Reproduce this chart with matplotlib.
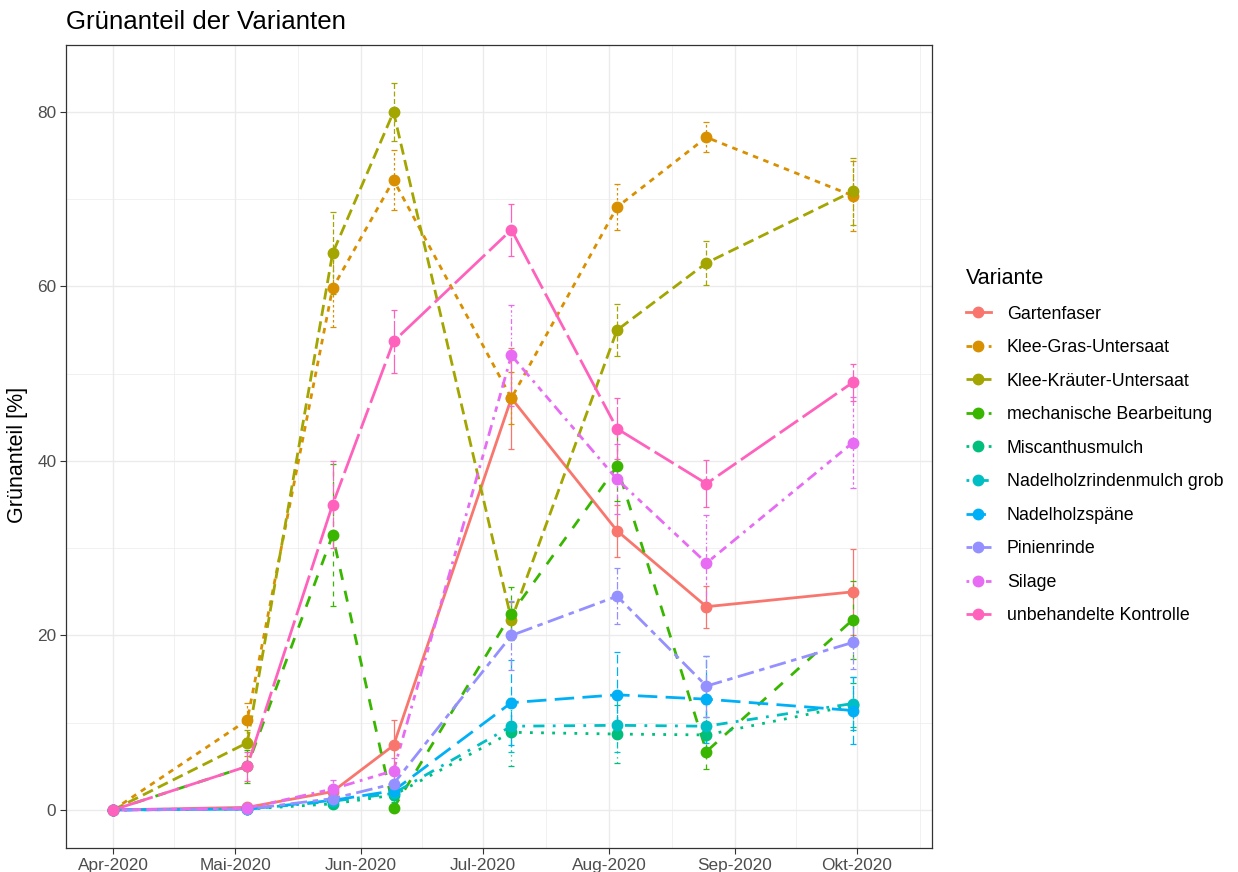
import pandas as pd
import matplotlib
matplotlib.use("Agg")
import matplotlib.pyplot as plt
import matplotlib.dates as mdates
from matplotlib.lines import Line2D

plt.rcParams['font.family'] = ['Liberation Sans', 'DejaVu Sans']

# Aufnahmetermine
dates = pd.to_datetime(["2020-04-01", "2020-05-04", "2020-05-25", "2020-06-09",
                        "2020-07-08", "2020-08-03", "2020-08-25", "2020-09-30"])

varianten = ["Gartenfaser", "Klee-Gras-Untersaat", "Klee-Kräuter-Untersaat",
             "mechanische Bearbeitung", "Miscanthusmulch", "Nadelholzrindenmulch grob",
             "Nadelholzspäne", "Pinienrinde", "Silage", "unbehandelte Kontrolle"]

# Mittelwerte Grünanteil [%]
gartenfaser = [0, 0.3, 2.1, 7.4, 47.2, 32.0, 23.3, 25.0]
klee_gras = [0, 10.3, 59.8, 72.2, 47.2, 69.1, 77.1, 70.4]
klee_kraeuter = [0, 7.7, 63.8, 80.0, 21.8, 55.0, 62.7, 70.9]
mechanisch = [0, 5.0, 31.5, 0.2, 22.5, 39.4, 6.7, 21.8]
miscanthus = [0, 0.1, 0.7, 1.7, 8.9, 8.7, 8.6, 12.0]
rindenmulch = [0, 0.1, 1.0, 1.9, 9.6, 9.7, 9.6, 12.2]
nadelholzspaene = [0, 0.1, 1.1, 2.2, 12.3, 13.2, 12.7, 11.4]
pinienrinde = [0, 0.1, 1.3, 3.0, 20.0, 24.5, 14.2, 19.2]
silage = [0, 0.2, 2.4, 4.5, 52.1, 37.9, 28.3, 42.1]
kontrolle = [0, 5.0, 35.0, 53.7, 66.5, 43.7, 37.4, 49.0]

# Fehlerbalken (+/-)
gartenfaser_sd = [0, 0.3, 0.5, 2.9, 5.8, 3.0, 2.4, 4.9]
klee_gras_sd = [0, 2.0, 4.4, 3.4, 3.0, 2.6, 1.7, 4.0]
klee_kraeuter_sd = [0, 1.5, 4.7, 3.3, 2.0, 3.0, 2.5, 3.8]
mechanisch_sd = [0, 1.9, 8.1, 0.3, 3.0, 4.0, 2.0, 4.5]
miscanthus_sd = [0, 0.1, 0.3, 0.8, 3.9, 3.3, 2.0, 2.5]
rindenmulch_sd = [0, 0.1, 0.3, 0.8, 3.0, 3.0, 2.5, 3.0]
nadelholzspaene_sd = [0, 0.1, 0.3, 1.0, 4.9, 4.9, 5.0, 3.8]
pinienrinde_sd = [0, 0.1, 0.4, 1.2, 4.0, 3.2, 3.5, 3.0]
silage_sd = [0, 0.1, 1.0, 1.5, 5.8, 4.0, 5.5, 5.2]
kontrolle_sd = [0, 1.7, 5.0, 3.6, 3.0, 3.5, 2.7, 2.1]

werte = [gartenfaser, klee_gras, klee_kraeuter, mechanisch, miscanthus,
         rindenmulch, nadelholzspaene, pinienrinde, silage, kontrolle]
fehler = [gartenfaser_sd, klee_gras_sd, klee_kraeuter_sd, mechanisch_sd, miscanthus_sd,
          rindenmulch_sd, nadelholzspaene_sd, pinienrinde_sd, silage_sd, kontrolle_sd]

month_ticks = pd.to_datetime(["2020-04-01", "2020-05-01", "2020-06-01", "2020-07-01",
                              "2020-08-01", "2020-09-01", "2020-10-01", "2020-11-01"])
month_labels = ["Apr-2020", "Mai-2020", "Jun-2020", "Jul-2020",
                "Aug-2020", "Sep-2020", "Okt-2020"]

# ggplot-Farben und Linientypen
farben = ["#F8766D", "#D89000", "#A3A500", "#39B600", "#00BF7D",
          "#00BFC4", "#00B0F6", "#9590FF", "#E76BF3", "#FF62BC"]
linien = ["-", (0, (2, 2)), (0, (4, 2)), (0, (4, 4)), (0, (1, 3)),
          (0, (1, 3, 4, 3)), (0, (7, 3)), (0, (2, 2, 6, 2)),
          (0, (1, 2, 2, 2, 3, 2, 4, 2)), (0, (15, 2, 8, 2))]

W, H = 1238, 872
fig = plt.figure(figsize=(W / 100, H / 100), dpi=100)
ax = fig.add_axes([66 / W, (H - 848) / H, (932 - 66) / W, (848 - 45) / H])

x = mdates.date2num(dates)
lw = 2.0
for i, name in enumerate(varianten):
    ax.plot(x, werte[i], color=farben[i], lw=lw, ls=linien[i], zorder=3)
for i, name in enumerate(varianten):
    eb = ax.errorbar(x, werte[i], yerr=fehler[i], fmt='none', ecolor=farben[i],
                     elinewidth=0.9, capsize=2.5, capthick=0.9, zorder=4)
    eb[2][0].set_linestyle(linien[i])
for i, name in enumerate(varianten):
    ax.plot(x, werte[i], 'o', color=farben[i], ms=7.5, zorder=5)

# Achsen
t = mdates.date2num(month_ticks)
ax.set_xticks(t[:-1])
ax.set_xticklabels(month_labels)
ax.set_xticks((t[:-1] + t[1:]) / 2, minor=True)
ax.set_xlim(t[0] - 11.6, t[6] + 18.5)
ax.set_ylim(-4.36, 87.68)
ax.set_yticks([0, 20, 40, 60, 80])
ax.set_yticks([10, 30, 50, 70], minor=True)

ax.grid(True, which='major', color='#EBEBEB', lw=1.0, zorder=0)
ax.grid(True, which='minor', color='#EBEBEB', lw=0.5, zorder=0)
ax.set_axisbelow(True)
ax.tick_params(which='major', length=4, width=0.8, color='#333333',
               labelcolor='#4D4D4D', labelsize=12.4, pad=3)
ax.tick_params(which='minor', length=0)
for s in ax.spines.values():
    s.set_color('#333333')
    s.set_linewidth(0.9)

ax.set_ylabel("Grünanteil [%]", fontsize=15.5)
ax.yaxis.set_label_coords((28 - 66) / (932 - 66), 0.49)
fig.text(66 / W, 1 - 22 / H, "Grünanteil der Varianten", fontsize=18.6, va='center', ha='left')

handles = [Line2D([], [], color=farben[i], lw=lw, ls=linien[i], marker='o', ms=7.5)
           for i in range(len(varianten))]
fig.legend(handles, varianten, loc='upper left', bbox_to_anchor=(966 / W, 1 - 268 / H),
           frameon=False, title="Variante", title_fontsize=15.5, fontsize=12.8,
           handlelength=1.4, handletextpad=0.9, labelspacing=0.93,
           alignment='left', borderaxespad=0, borderpad=0)

fig.savefig("out.png", dpi=100)
